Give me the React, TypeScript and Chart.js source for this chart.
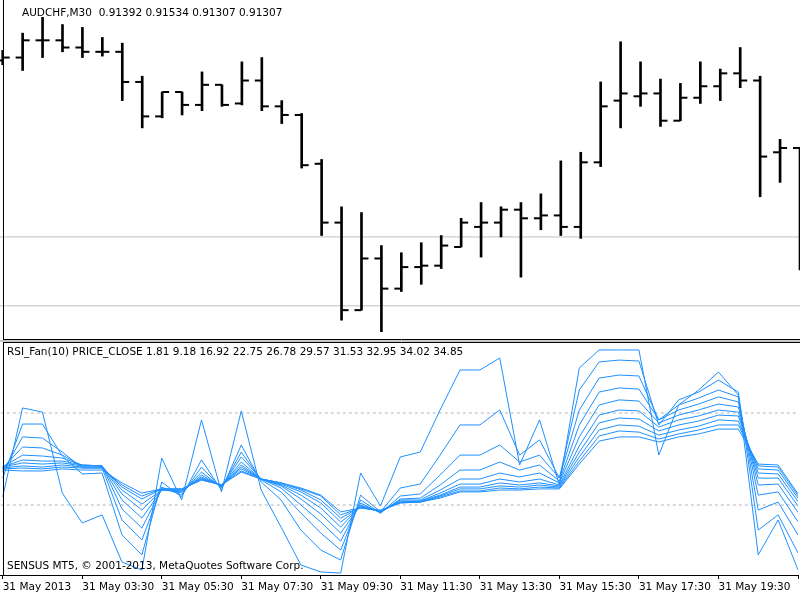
import React, { useEffect, useRef } from "react";
import { Chart, registerables } from "chart.js";

Chart.register(...registerables);

// ---- texts ----
const SYMBOL_TITLE = "AUDCHF,M30  0.91392 0.91534 0.91307 0.91307";
const RSI_TITLE =
  "RSI_Fan(10) PRICE_CLOSE 1.81 9.18 16.92 22.75 26.78 29.57 31.53 32.95 34.02 34.85";
const COPYRIGHT = "SENSUS MT5, \u00A9 2001-2013, MetaQuotes Software Corp.";

// ---- x axis (bar index -> label) ----
const X_TICKS = [0, 4, 8, 12, 16, 20, 24, 28, 32, 36, 40];
const X_LABELS = [
  "31 May 2013",
  "31 May 03:30",
  "31 May 05:30",
  "31 May 07:30",
  "31 May 09:30",
  "31 May 11:30",
  "31 May 13:30",
  "31 May 15:30",
  "31 May 17:30",
  "31 May 19:30",
  "",
];

// ---- price bars (AUDCHF M30) ----
const OPEN = [
  0.91453, 0.91455, 0.91467, 0.91467, 0.91462, 0.91459, 0.91459, 0.91438, 0.91414, 0.91431,
  0.91422, 0.91436, 0.91423, 0.91439, 0.91421, 0.91415, 0.91381, 0.9134, 0.91279, 0.91315,
  0.91294, 0.91309, 0.9131, 0.91323, 0.91337, 0.9134, 0.91349, 0.91343, 0.91345, 0.91337,
  0.91382, 0.91425, 0.91428, 0.9143, 0.91411, 0.91427, 0.91435, 0.91444, 0.91439, 0.91389,
  0.91392,
];
const HIGH = [
  0.9146, 0.91472, 0.91483, 0.91478, 0.91476, 0.91469, 0.91465, 0.91442, 0.91431, 0.91431,
  0.91445, 0.91436, 0.91452, 0.91455, 0.91425, 0.91416, 0.91384, 0.91351, 0.91347, 0.91324,
  0.91319, 0.91326, 0.91331, 0.91343, 0.91354, 0.91351, 0.91354, 0.9136, 0.91383, 0.91389,
  0.91438, 0.91466, 0.91452, 0.9144, 0.91437, 0.91452, 0.91447, 0.91462, 0.91442, 0.91398,
  0.91392,
];
const LOW = [
  0.9145, 0.91446, 0.91455, 0.91459, 0.91455, 0.91456, 0.91425, 0.91406, 0.91413, 0.91415,
  0.91418, 0.91421, 0.91422, 0.91418, 0.91409, 0.91378, 0.91331, 0.91272, 0.91279, 0.91264,
  0.91292, 0.91297, 0.91308, 0.91323, 0.91316, 0.9133, 0.91302, 0.91335, 0.91331, 0.91329,
  0.91379, 0.91406, 0.91421, 0.91407, 0.91411, 0.91423, 0.91425, 0.91434, 0.91358, 0.91368,
  0.91307,
];
const CLOSE = [
  0.91455, 0.91467, 0.91467, 0.91462, 0.91459, 0.91459, 0.91438, 0.91414, 0.91431, 0.91422,
  0.91436, 0.91422, 0.91439, 0.91421, 0.91415, 0.9138, 0.9134, 0.91279, 0.91315, 0.91294,
  0.91309, 0.9131, 0.91324, 0.9134, 0.9134, 0.91349, 0.91343, 0.91345, 0.91337, 0.91382,
  0.91421, 0.9143, 0.9143, 0.91411, 0.91427, 0.91435, 0.91444, 0.91439, 0.91386, 0.91392,
  0.91307,
];
const PRICE_LEVELS = [0.9133, 0.91282];
const PRICE_MIN = 0.912582;
const PRICE_MAX = 0.914951;

// ---- RSI fan (10 lines) ----
const RSI_1 = [
  33.5, 72.2, 70.4, 35.2, 22.2, 25.7, 5.2, 1.7, 50.4, 32.2,
  67.0, 35.7, 70.9, 36.5, 20.4, 3.9, 0.9, 0.4, 43.9, 29.6,
  50.9, 53.0, 71.3, 88.7, 88.7, 93.9, 47.4, 67.0, 38.7, 89.6,
  97.4, 97.4, 97.4, 51.7, 73.5, 80.0, 87.8, 77.8, 8.3, 23.5,
  1.81,
];
const RSI_2 = [
  41.7, 65.2, 65.2, 51.3, 43.5, 43.9, 17.0, 8.3, 40.0, 33.5,
  49.6, 36.5, 56.1, 40.0, 32.2, 19.1, 10.4, 6.1, 34.3, 27.0,
  37.4, 39.1, 51.7, 64.8, 64.8, 71.3, 51.7, 58.3, 41.7, 80.0,
  92.2, 93.0, 92.6, 64.8, 75.7, 79.1, 84.3, 79.1, 19.1, 25.7,
  9.18,
];
const RSI_3 = [
  44.3, 59.6, 59.1, 53.0, 46.1, 46.1, 23.5, 14.8, 37.8, 34.3,
  46.5, 37.4, 53.0, 40.9, 35.7, 26.5, 17.8, 10.4, 32.2, 26.5,
  33.9, 34.8, 43.0, 51.7, 51.7, 56.1, 48.7, 51.7, 41.7, 71.3,
  85.2, 86.5, 86.1, 67.0, 73.5, 76.5, 80.0, 77.0, 27.8, 31.3,
  16.92,
];
const RSI_4 = [
  46.1, 55.2, 54.8, 51.7, 47.0, 47.0, 28.3, 20.0, 37.0, 35.2,
  44.3, 37.8, 50.9, 41.3, 37.4, 30.0, 22.6, 14.3, 30.9, 26.5,
  32.6, 33.0, 38.7, 45.2, 45.2, 48.7, 45.2, 47.4, 40.4, 64.8,
  79.1, 80.9, 80.4, 67.0, 71.3, 73.9, 77.0, 74.8, 34.3, 35.7,
  22.75,
];
const RSI_5 = [
  46.5, 51.7, 51.3, 50.4, 47.4, 47.0, 32.2, 24.3, 36.5, 35.7,
  43.0, 38.3, 48.7, 41.3, 38.3, 32.6, 26.1, 17.8, 30.0, 27.0,
  32.2, 32.2, 36.5, 41.3, 41.3, 43.9, 42.2, 43.9, 39.6, 59.6,
  73.5, 75.7, 75.2, 65.7, 69.1, 71.3, 73.9, 72.6, 38.7, 39.1,
  26.78,
];
const RSI_6 = [
  46.5, 49.6, 49.1, 49.1, 47.4, 47.0, 34.8, 27.8, 36.5, 36.1,
  42.2, 38.3, 47.4, 41.3, 38.7, 34.3, 28.7, 20.4, 29.6, 27.0,
  31.7, 31.7, 35.2, 39.1, 39.1, 41.3, 40.0, 41.3, 38.7, 55.7,
  69.1, 71.3, 70.9, 63.9, 67.0, 68.7, 71.3, 70.4, 41.7, 41.7,
  29.57,
];
const RSI_7 = [
  46.5, 48.3, 47.8, 48.3, 47.0, 47.0, 36.5, 30.4, 36.5, 36.5,
  41.7, 38.7, 46.5, 41.3, 39.1, 35.7, 30.9, 22.6, 29.1, 27.4,
  31.3, 31.7, 34.3, 37.8, 37.8, 39.6, 38.7, 39.6, 38.3, 53.0,
  65.7, 67.8, 67.4, 62.2, 64.8, 66.5, 69.1, 68.7, 43.9, 43.5,
  31.53,
];
const RSI_8 = [
  46.1, 47.0, 46.5, 47.4, 46.5, 46.5, 37.8, 32.6, 37.0, 36.5,
  41.3, 38.7, 45.7, 41.3, 39.6, 36.5, 32.2, 24.3, 29.1, 27.4,
  31.3, 31.3, 33.9, 37.0, 37.0, 38.3, 37.8, 38.7, 37.8, 50.9,
  62.6, 64.8, 64.3, 60.4, 62.6, 64.3, 67.0, 66.5, 45.7, 45.2,
  32.95,
];
const RSI_9 = [
  45.7, 46.1, 45.7, 46.5, 46.1, 46.1, 38.7, 33.9, 37.0, 37.0,
  40.9, 38.7, 44.8, 41.3, 39.6, 37.0, 33.9, 25.7, 28.7, 27.4,
  30.9, 31.3, 33.5, 36.1, 36.1, 37.4, 37.0, 37.8, 37.4, 49.1,
  60.0, 62.2, 61.7, 58.7, 60.9, 62.6, 64.8, 64.8, 47.0, 46.5,
  34.02,
];
const RSI_10 = [
  45.2, 44.8, 44.8, 45.7, 45.2, 45.2, 39.6, 35.2, 37.0, 37.0,
  40.9, 38.7, 44.3, 41.3, 39.6, 37.4, 34.3, 27.0, 28.7, 27.8,
  30.9, 31.3, 33.0, 35.7, 35.7, 36.5, 36.5, 37.0, 37.0, 47.8,
  57.8, 59.6, 59.6, 57.4, 59.6, 60.9, 63.0, 63.0, 47.8, 47.4,
  34.85,
];
const RSI_SERIES = [RSI_1, RSI_2, RSI_3, RSI_4, RSI_5, RSI_6, RSI_7, RSI_8, RSI_9, RSI_10];
const RSI_LEVELS = [70, 30];

// ---- style constants ----
const X_MIN = -0.135;
const X_MAX = 40.0;
const TICK_SHIFT = 0.176; // half of an open/close tick, in bar units
const FONT = "DejaVu Sans";
const FONT_SIZE = 10.5;
const RSI_COLOR = "#1E90FF";

Chart.defaults.font.family = FONT;
Chart.defaults.font.size = FONT_SIZE;

export default function App() {
  const topRef = useRef<HTMLCanvasElement | null>(null);
  const botRef = useRef<HTMLCanvasElement | null>(null);

  useEffect(() => {
    const levelSets = PRICE_LEVELS.map((lvl) => ({
      type: "line" as const,
      data: [
        { x: -1, y: lvl },
        { x: 41, y: lvl },
      ],
      borderColor: "#c0c0c0",
      borderWidth: 1,
      pointRadius: 0,
      order: 5,
    }));

    const topChart = new Chart(topRef.current as HTMLCanvasElement, {
      type: "line",
      data: {
        datasets: [
          ...levelSets,
          {
            type: "bar",
            data: HIGH.map((h, i) => ({ x: i, y: [LOW[i], h] })),
            backgroundColor: "#000",
            borderWidth: 0,
            barThickness: 2,
            order: 3,
          } as any,
          {
            type: "scatter",
            data: OPEN.map((o, i) => ({ x: i - TICK_SHIFT, y: o })),
            pointStyle: "line",
            pointRadius: 3.5,
            pointBorderWidth: 2,
            borderColor: "#000",
            pointBorderColor: "#000",
            showLine: false,
            order: 2,
          } as any,
          {
            type: "scatter",
            data: CLOSE.map((c, i) => ({ x: i + TICK_SHIFT, y: c })),
            pointStyle: "line",
            pointRadius: 3.5,
            pointBorderWidth: 2,
            borderColor: "#000",
            pointBorderColor: "#000",
            showLine: false,
            order: 1,
          } as any,
        ],
      },
      options: {
        responsive: false,
        animation: false,
        events: [],
        devicePixelRatio: 1,
        layout: { padding: 0, autoPadding: false },
        plugins: { legend: { display: false }, tooltip: { enabled: false } },
        scales: {
          x: { type: "linear", display: false, min: X_MIN, max: X_MAX, offset: false },
          y: { type: "linear", display: false, min: PRICE_MIN, max: PRICE_MAX },
        },
      },
      plugins: [
        {
          id: "topFrame",
          afterDraw(chart: any) {
            const ctx = chart.ctx as CanvasRenderingContext2D;
            ctx.save();
            ctx.strokeStyle = "#000";
            ctx.lineWidth = 1;
            ctx.beginPath();
            ctx.moveTo(3.5, 0);
            ctx.lineTo(3.5, 340);
            ctx.moveTo(3, 339.5);
            ctx.lineTo(800, 339.5);
            ctx.stroke();
            ctx.fillStyle = "#000";
            ctx.font = `${FONT_SIZE}px "${FONT}"`;
            ctx.textBaseline = "middle";
            ctx.textAlign = "left";
            ctx.fillText(SYMBOL_TITLE, 22, 13);
            ctx.restore();
          },
        },
      ],
    } as any);

    const botChart = new Chart(botRef.current as HTMLCanvasElement, {
      type: "line",
      data: {
        datasets: [
          ...RSI_LEVELS.map((lvl) => ({
            data: [
              { x: -1, y: lvl },
              { x: 41, y: lvl },
            ],
            borderColor: "#b4b4b4",
            borderWidth: 1,
            borderDash: [3, 3],
            pointRadius: 0,
            order: 5,
          })),
          ...RSI_SERIES.map((s) => ({
            data: s.map((v, i) => ({ x: i, y: v })),
            borderColor: RSI_COLOR,
            borderWidth: 1,
            pointRadius: 0,
            tension: 0,
            order: 1,
          })),
        ],
      },
      options: {
        responsive: false,
        animation: false,
        events: [],
        devicePixelRatio: 1,
        layout: { padding: { top: 2, left: 0, right: 0, bottom: 0 }, autoPadding: false },
        plugins: { legend: { display: false }, tooltip: { enabled: false } },
        scales: {
          x: {
            type: "linear",
            min: X_MIN,
            max: X_MAX,
            offset: false,
            afterBuildTicks: (axis: any) => {
              axis.ticks = X_TICKS.map((v) => ({ value: v }));
            },
            afterFit: (axis: any) => {
              axis.height = 25;
            },
            ticks: {
              autoSkip: false,
              maxRotation: 0,
              minRotation: 0,
              align: "start",
              padding: 2,
              color: "#000",
              font: { family: FONT, size: FONT_SIZE },
              callback: (_v: any, idx: number) => X_LABELS[idx] ?? "",
            },
            grid: {
              display: true,
              drawOnChartArea: false,
              drawTicks: true,
              tickLength: 4,
              tickColor: "#000",
              color: "#000",
            },
            border: { display: true, color: "#000", width: 1 },
          },
          y: { type: "linear", display: false, min: -0.43, max: 100.87 },
        },
      },
      plugins: [
        {
          id: "botFrame",
          afterDraw(chart: any) {
            const ctx = chart.ctx as CanvasRenderingContext2D;
            ctx.save();
            ctx.fillStyle = "#c8c8c8";
            ctx.fillRect(0, 0, 800, 2);
            ctx.strokeStyle = "#000";
            ctx.lineWidth = 1;
            ctx.beginPath();
            ctx.moveTo(3, 2.5);
            ctx.lineTo(800, 2.5);
            ctx.moveTo(3.5, 2);
            ctx.lineTo(3.5, 235);
            ctx.stroke();
            ctx.fillStyle = "#000";
            ctx.font = `${FONT_SIZE}px "${FONT}"`;
            ctx.textBaseline = "middle";
            ctx.textAlign = "left";
            ctx.fillText(RSI_TITLE, 7, 12);
            ctx.fillText(COPYRIGHT, 7, 226);
            ctx.restore();
          },
        },
      ],
    } as any);

    return () => {
      topChart.destroy();
      botChart.destroy();
    };
  }, []);

  return (
    <div
      style={{
        position: "absolute",
        left: 0,
        top: 0,
        width: 800,
        height: 600,
        background: "#fff",
        overflow: "hidden",
      }}
    >
      <canvas
        ref={topRef}
        width={800}
        height={340}
        style={{ position: "absolute", left: 0, top: 0, width: 800, height: 340 }}
      />
      <canvas
        ref={botRef}
        width={800}
        height={260}
        style={{ position: "absolute", left: 0, top: 340, width: 800, height: 260 }}
      />
    </div>
  );
}
